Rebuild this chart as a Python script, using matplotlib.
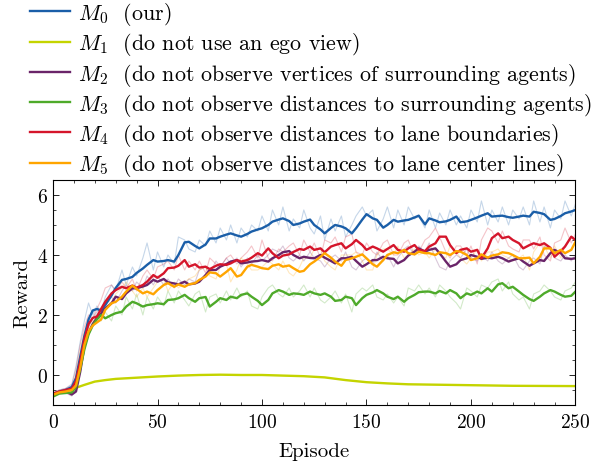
import numpy as np
import matplotlib.pyplot as plt
from matplotlib.ticker import MultipleLocator

plt.rcParams['font.family'] = 'serif'
plt.rcParams['font.serif'] = ['cmr10']
plt.rcParams['mathtext.fontset'] = 'cm'
plt.rcParams['axes.formatter.use_mathtext'] = True
plt.rcParams['font.size'] = 15

# episodes where the curves were read
ep = [0, 3, 6, 9, 11, 13, 15, 17, 19, 21, 23,
      25, 28, 30, 33, 35, 38, 40, 43, 45, 48,
      50, 53, 55, 58, 60, 63, 65, 68, 70, 73, 75, 78, 80, 83, 85, 88, 90, 93, 95, 98,
      100, 103, 105, 108, 110, 113, 115, 118, 120, 123, 125, 128, 130, 133, 135, 138, 140, 143, 145, 148,
      150, 153, 155, 158, 160, 163, 165, 168, 170, 173, 175, 178, 180, 183, 185, 188, 190, 193, 195, 198,
      200, 203, 205, 208, 210, 213, 215, 218, 220, 223, 225, 228, 230, 233, 235, 238, 240, 243, 245, 248,
      250]

# M0 (our)
m0_smooth = [-0.65, -0.55, -0.5, -0.4, -0.1, 0.6, 1.3, 1.85, 2.15, 2.2, 2.15,
             2.33, 2.65, 2.9, 3.17, 3.2, 3.27, 3.4, 3.55, 3.67, 3.83,
             3.78, 3.8, 3.83, 3.78, 4.0, 4.42, 4.44, 4.3, 4.22, 4.35, 4.55, 4.55, 4.61, 4.68, 4.72, 4.65, 4.61, 4.7, 4.78, 4.85,
             4.89, 5.0, 5.11, 5.18, 5.22, 5.13, 5.0, 5.05, 5.11, 5.18, 5.0, 4.85, 4.72, 4.9, 5.0, 4.95, 4.89, 4.72, 4.89, 5.18,
             5.36, 5.22, 5.17, 4.91, 5.0, 5.17, 5.11, 5.15, 5.17, 5.25, 5.31, 5.02, 5.22, 5.15, 5.09, 5.12, 5.17, 5.28, 5.09, 5.12,
             5.17, 5.25, 5.31, 5.39, 5.28, 5.3, 5.31, 5.26, 5.24, 5.28, 5.31, 5.28, 5.44, 5.4, 5.36, 5.17, 5.2, 5.3, 5.39, 5.45,
             5.5]
m0_raw = [-0.6, -0.5, -0.45, -0.3, 0.3, 1.1, 1.8, 2.4, 2.0, 2.3, 2.1,
          2.6, 3.0, 2.8, 3.5, 3.0, 3.6, 3.3, 3.9, 4.4, 3.5,
          4.1, 3.6, 4.0, 3.7, 4.6, 4.5, 4.2, 4.1, 4.5, 4.3, 4.8, 4.4, 4.9, 4.5, 5.0, 4.4, 4.9, 4.6, 5.0, 4.8,
          5.3, 4.8, 5.5, 5.0, 5.6, 4.8, 5.2, 4.9, 5.5, 4.9, 4.7, 5.3, 4.5, 5.2, 4.8, 5.3, 4.6, 5.0, 5.3, 5.6,
          5.3, 5.5, 4.8, 5.2, 5.6, 4.9, 5.5, 5.0, 5.6, 5.2, 5.3, 4.9, 5.5, 4.9, 5.4, 5.0, 5.5, 5.0, 5.3, 4.9,
          5.5, 5.1, 5.8, 5.0, 5.5, 5.1, 5.6, 5.0, 5.5, 5.2, 5.6, 5.0, 5.8, 5.1, 5.6, 4.9, 5.5, 5.2, 5.8, 5.3,
          5.7]

# M1 (no ego view) - almost no noise, read on its own grid
ep_m1 = [0, 5, 10, 15, 20, 25, 30, 40, 50, 60, 70, 80, 90, 100, 110, 120,
         130, 140, 150, 160, 170, 180, 190, 200, 220, 250]
m1_smooth = [-0.65, -0.55, -0.45, -0.33, -0.22, -0.17, -0.13, -0.09, -0.05, -0.02,
             0.0, 0.01, 0.0, 0.0, -0.02, -0.04, -0.08, -0.17, -0.24, -0.28,
             -0.31, -0.32, -0.33, -0.34, -0.36, -0.37]

# M2
m2_smooth = [-0.7, -0.58, -0.55, -0.65, -0.55, 0.1, 0.95, 1.4, 1.7, 1.9, 2.05,
             2.22, 2.39, 2.61, 2.53, 2.72, 2.89, 2.89, 2.95, 3.0, 3.17,
             3.11, 3.2, 3.09, 3.05, 3.02, 3.11, 3.02, 3.05, 3.11, 3.33, 3.5, 3.5, 3.61, 3.7, 3.78, 3.83, 3.72, 3.75, 3.78, 3.8,
             3.83, 3.78, 3.89, 4.0, 4.09, 4.13, 4.0, 3.89, 3.94, 3.9, 3.89, 4.0, 3.91, 3.8, 3.72, 3.89, 3.89, 3.94, 3.8, 3.61,
             3.69, 3.83, 3.83, 3.94, 3.89, 3.87, 3.72, 3.83, 3.98, 4.11, 4.22, 4.11, 4.17, 4.22, 4.06, 3.78, 3.61, 3.69, 3.83, 3.89,
             4.0, 3.94, 3.87, 3.91, 3.89, 3.94, 3.89, 3.78, 3.83, 3.89, 3.78, 3.64, 3.72, 3.83, 3.8, 4.06, 4.17, 4.06, 3.89, 3.87,
             3.89]
m2_raw = [-0.65, -0.55, -0.6, -0.7, -0.3, 0.5, 1.3, 1.6, 1.9, 2.1, 2.2,
          2.4, 2.6, 2.4, 2.8, 3.0, 2.8, 3.1, 2.9, 3.3, 3.0,
          3.3, 3.0, 3.2, 2.9, 3.2, 3.0, 3.2, 3.1, 3.5, 3.6, 3.4, 3.8, 3.6, 3.9, 3.7, 3.9, 3.6, 3.9, 3.7, 4.0,
          3.8, 4.0, 4.2, 4.1, 4.3, 3.9, 3.8, 4.0, 3.8, 4.1, 3.9, 3.8, 3.6, 3.9, 4.0, 3.8, 4.1, 3.6, 3.5, 3.8,
          3.9, 3.7, 4.1, 3.8, 4.0, 3.6, 3.9, 4.2, 4.3, 4.0, 4.3, 4.1, 4.4, 3.9, 3.6, 3.5, 3.8, 4.0, 3.9, 4.2,
          3.9, 3.8, 4.0, 3.8, 4.1, 3.8, 3.7, 3.9, 4.0, 3.6, 3.5, 3.8, 3.9, 3.7, 4.3, 4.2, 3.9, 3.8, 4.0, 3.8,
          4.0]

# M3
m3_smooth = [-0.72, -0.62, -0.6, -0.58, -0.4, 0.2, 0.85, 1.35, 1.65, 1.85, 2.0,
             1.89, 2.0, 2.06, 2.11, 2.28, 2.44, 2.39, 2.28, 2.33, 2.36,
             2.39, 2.36, 2.5, 2.52, 2.56, 2.67, 2.56, 2.44, 2.56, 2.6, 2.28, 2.44, 2.56, 2.5, 2.61, 2.56, 2.67, 2.72, 2.61, 2.47,
             2.33, 2.5, 2.72, 2.83, 2.78, 2.67, 2.72, 2.7, 2.67, 2.78, 2.72, 2.67, 2.72, 2.61, 2.47, 2.5, 2.61, 2.56, 2.33, 2.56,
             2.67, 2.75, 2.83, 2.72, 2.61, 2.53, 2.61, 2.44, 2.56, 2.67, 2.76, 2.78, 2.78, 2.72, 2.8, 2.72, 2.83, 2.72, 2.56, 2.72,
             2.67, 2.78, 2.72, 2.89, 2.78, 3.02, 3.06, 2.89, 2.94, 2.78, 2.67, 2.53, 2.47, 2.61, 2.72, 2.83, 2.78, 2.67, 2.61, 2.64,
             2.78]
m3_raw = [-0.7, -0.6, -0.62, -0.55, -0.2, 0.6, 1.2, 1.6, 1.9, 2.0, 1.8,
          2.1, 1.8, 2.3, 2.0, 2.6, 2.2, 2.7, 2.0, 2.6, 2.2,
          2.6, 2.3, 2.8, 2.4, 2.8, 2.5, 2.3, 2.7, 2.8, 2.1, 2.6, 2.7, 2.4, 2.8, 2.5, 2.9, 2.6, 2.8, 2.3, 2.2,
          2.6, 2.9, 3.0, 2.7, 2.6, 2.9, 2.6, 2.8, 3.0, 2.6, 2.9, 2.5, 2.4, 2.6, 2.8, 2.4, 2.7, 2.1, 2.7, 2.9,
          2.8, 3.0, 2.6, 2.5, 2.7, 2.4, 2.6, 2.3, 2.9, 2.8, 3.0, 2.7, 2.9, 2.6, 3.0, 2.8, 2.6, 2.4, 2.2, 2.9,
          2.8, 2.6, 3.0, 2.9, 3.1, 3.2, 2.8, 3.1, 2.7, 2.5, 2.6, 2.2, 2.7, 2.8, 3.0, 2.8, 2.6, 2.5, 2.8, 2.9,
          3.1]

# M4
m4_smooth = [-0.62, -0.55, -0.5, -0.45, -0.2, 0.45, 1.2, 1.7, 1.9, 1.95, 2.2,
             2.44, 2.72, 2.83, 2.94, 2.89, 2.98, 2.91, 3.0, 3.11, 3.33,
             3.24, 3.39, 3.56, 3.58, 3.64, 3.83, 3.61, 3.69, 3.58, 3.61, 3.53, 3.64, 3.69, 3.67, 3.72, 3.83, 3.78, 3.83, 3.91, 4.06,
             3.98, 4.22, 4.06, 3.89, 3.98, 4.02, 4.1, 4.2, 4.17, 4.28, 4.17, 4.22, 4.09, 4.28, 4.33, 4.39, 4.22, 4.36, 4.5, 4.33,
             4.17, 4.28, 4.22, 4.11, 4.2, 4.33, 4.17, 4.11, 4.22, 4.33, 4.17, 4.13, 4.28, 4.39, 4.61, 4.61, 4.33, 4.06, 4.17, 4.22,
             4.11, 4.17, 3.89, 4.22, 4.56, 4.72, 4.56, 4.61, 4.5, 4.39, 4.22, 4.33, 4.39, 4.33, 4.39, 4.24, 3.94, 4.13, 4.28, 4.61,
             4.5]
m4_raw = [-0.6, -0.5, -0.45, -0.35, 0.2, 1.0, 1.6, 2.0, 1.9, 2.2, 2.5,
          2.9, 3.0, 2.8, 3.1, 2.9, 3.2, 2.8, 3.3, 3.5, 3.2,
          3.6, 3.7, 3.8, 3.5, 4.0, 3.5, 3.8, 3.5, 3.8, 3.4, 3.9, 3.7, 3.6, 3.9, 4.0, 3.7, 3.9, 4.1, 4.3, 3.9,
          4.5, 3.9, 3.8, 4.2, 4.1, 4.3, 4.4, 4.0, 4.5, 4.1, 4.4, 3.9, 4.5, 4.4, 4.6, 4.1, 4.6, 4.7, 4.1, 4.0,
          4.4, 4.1, 4.0, 4.4, 4.5, 4.0, 4.0, 4.4, 4.5, 4.0, 4.1, 4.5, 4.6, 4.9, 4.6, 4.1, 3.9, 4.3, 4.3, 4.0,
          4.3, 3.7, 4.5, 4.9, 4.8, 4.4, 4.8, 4.3, 4.2, 4.1, 4.5, 4.5, 4.2, 4.6, 4.0, 3.8, 4.4, 4.5, 4.9, 4.4,
          4.7]

# M5
m5_smooth = [-0.66, -0.58, -0.55, -0.5, -0.35, 0.25, 1.0, 1.45, 1.65, 1.75, 1.85,
             2.17, 2.39, 2.44, 2.61, 2.78, 2.98, 2.87, 2.72, 2.78, 2.69,
             2.83, 3.0, 3.06, 2.94, 3.02, 2.94, 3.02, 3.06, 3.17, 3.28, 3.42, 3.39, 3.28, 3.44, 3.56, 3.28, 3.33, 3.61, 3.67, 3.61,
             3.56, 3.53, 3.64, 3.69, 3.61, 3.65, 3.56, 3.44, 3.47, 3.69, 3.78, 3.94, 4.06, 3.91, 3.78, 3.64, 3.83, 3.89, 3.94, 4.02,
             3.89, 3.69, 3.61, 3.83, 4.0, 4.09, 4.06, 4.17, 4.06, 4.02, 4.11, 4.06, 4.06, 4.0, 4.09, 4.06, 4.0, 4.13, 4.11, 4.0,
             3.83, 3.89, 4.02, 3.91, 3.98, 4.02, 4.09, 4.06, 4.0, 3.89, 3.89, 3.91, 3.72, 3.94, 4.22, 4.22, 4.06, 4.17, 4.06, 4.17,
             4.44]
m5_raw = [-0.62, -0.55, -0.5, -0.45, 0.0, 0.8, 1.4, 1.7, 1.8, 1.9, 2.1,
          2.5, 2.4, 2.7, 2.9, 3.1, 2.8, 2.6, 2.9, 2.6, 2.9,
          3.1, 3.2, 2.8, 3.1, 2.9, 3.1, 3.2, 3.3, 3.5, 3.6, 3.3, 3.2, 3.6, 3.7, 3.1, 3.5, 3.9, 3.7, 3.5, 3.5,
          3.6, 3.8, 3.7, 3.5, 3.8, 3.4, 3.3, 3.6, 3.9, 3.9, 4.2, 4.2, 3.8, 3.6, 3.5, 4.0, 4.0, 4.0, 4.1, 3.8,
          3.5, 3.5, 4.0, 4.2, 4.2, 4.0, 4.3, 3.9, 4.0, 4.2, 4.0, 4.1, 3.9, 4.2, 4.0, 3.9, 4.3, 4.1, 3.9, 3.7,
          3.9, 4.2, 3.8, 4.1, 4.1, 4.2, 4.0, 3.9, 3.8, 3.9, 4.0, 3.5, 4.1, 4.4, 4.3, 3.9, 4.3, 3.9, 4.3, 4.6,
          4.5]

labels = [r'$M_0$  (our)',
          r'$M_1$  (do not use an ego view)',
          r'$M_2$  (do not observe vertices of surrounding agents)',
          r'$M_3$  (do not observe distances to surrounding agents)',
          r'$M_4$  (do not observe distances to lane boundaries)',
          r'$M_5$  (do not observe distances to lane center lines)']
colors = ['#1a5ea8', '#c4d400', '#6a2469', '#4eaa2a', '#d5152b', '#ffa500']

fig = plt.figure(figsize=(5.91, 4.64), dpi=100)
ax = fig.add_axes([0.0897, 0.125, 0.884, 0.485])

series = [(ep, m0_smooth, m0_raw), (ep_m1, m1_smooth, m1_smooth),
          (ep, m2_smooth, m2_raw), (ep, m3_smooth, m3_raw),
          (ep, m4_smooth, m4_raw), (ep, m5_smooth, m5_raw)]

# raw runs first, faint
for (x, s, r), c in zip(series, colors):
    ax.plot(x, r, color=c, lw=0.8, alpha=0.25)
for (x, s, r), c, lab in zip(series, colors, labels):
    ax.plot(x, s, color=c, lw=1.7, label=lab)

ax.set_xlim(0, 250)
ax.set_ylim(-1.0, 6.5)
ax.set_xticks([0, 50, 100, 150, 200, 250])
ax.set_yticks([0, 2, 4, 6])
ax.xaxis.set_minor_locator(MultipleLocator(10))
ax.yaxis.set_minor_locator(MultipleLocator(0.5))
ax.tick_params(which='both', direction='in', top=True, right=True, labelsize=14)
ax.tick_params(which='major', length=4, width=0.6)
ax.tick_params(which='minor', length=2.2, width=0.5)
ax.tick_params(axis='x', which='major', pad=6)
for sp in ax.spines.values():
    sp.set_linewidth(0.8)
ax.set_xlabel('Episode', labelpad=8)
ax.set_ylabel('Reward')

ax.legend(loc='upper left', bbox_to_anchor=(0.05, 0.998), bbox_transform=fig.transFigure,
          frameon=False, borderpad=0, borderaxespad=0, handlelength=1.84,
          handletextpad=0.36, labelspacing=0.15, fontsize=15.8)

fig.savefig('out.png', dpi=100)
